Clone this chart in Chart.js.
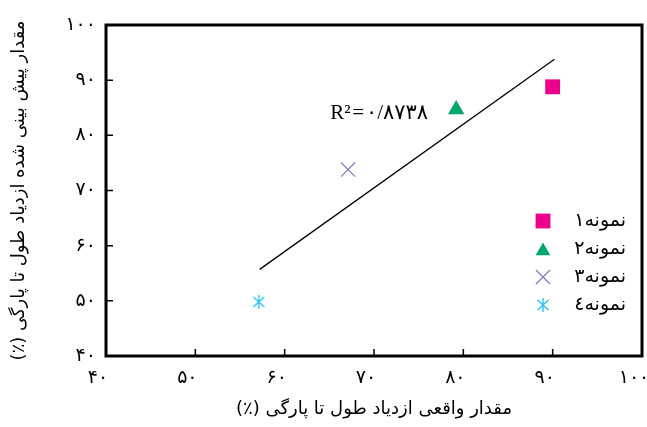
<!DOCTYPE html>
<html lang="fa">
<head>
    <meta charset="UTF-8">
    <title>مقدار پیش بینی شده و واقعی ازدیاد طول تا پارگی</title>
    <script src="https://cdn.jsdelivr.net/npm/chart.js"></script>
    <style>
        html, body {
            margin: 0;
            padding: 0;
            background: #fff;
        }
        #wrap {
            width: 647px;
            height: 427px;
        }
    </style>
</head>
<body>
    <div id="wrap">
        <canvas id="chart" dir="rtl" width="647" height="427"></canvas>
    </div>
    <script>
        // values
        const sampleNames = ['نمونه۱', 'نمونه۲', 'نمونه۳', 'نمونه٤'];
        const actualValues = [90.0, 79.2, 67.1, 57.1];
        const predictedValues = [88.8, 84.7, 73.8, 49.8];
        const fitLineX = [57.2, 90.2];
        const fitLineY = [55.7, 93.8];
        const rSquaredText = 'R²\u200a=\u200a۰/۸۷۳۸';
        const rSquaredAt = [65.1, 84.0];
        const innerTicks = [50, 60, 70, 80, 90];
        const xTitle = 'مقدار واقعی ازدیاد طول تا پارگی (٪)';
        const yTitle = 'مقدار پیش بینی شده ازدیاد طول تا پارگی (٪)';

        const sampleColors = ['#ec008c', '#00a76a', '#8b7bbd', '#29c3f0'];
        const faDigits = '۰۱۲۳۴۵۶۷۸۹';
        const toFa = n => String(n).replace(/\d/g, d => faDigits[d]);
        const arabicFont = 'DejaVu Sans';

        // six armed asterisk for sample 4
        function makeStar(color) {
            const c = document.createElement('canvas');
            c.width = 18;
            c.height = 18;
            const g = c.getContext('2d');
            g.strokeStyle = color;
            g.lineWidth = 1.4;
            g.beginPath();
            g.moveTo(9, 2); g.lineTo(9, 16);
            g.moveTo(3.5, 4); g.lineTo(14.5, 14);
            g.moveTo(14.5, 4); g.lineTo(3.5, 14);
            g.stroke();
            return c;
        }

        const markerStyles = [
            { pointStyle: 'rect', radius: 10.5, borderWidth: 0 },
            { pointStyle: 'triangle', radius: 9.5, borderWidth: 0 },
            { pointStyle: 'crossRot', radius: 10, borderWidth: 1.3 },
            { pointStyle: makeStar(sampleColors[3]), radius: 9, borderWidth: 1.4 }
        ];

        const sampleSets = sampleNames.map((name, i) => ({
            label: name,
            data: [{ x: actualValues[i], y: predictedValues[i] }],
            pointStyle: markerStyles[i].pointStyle,
            pointRadius: markerStyles[i].radius,
            pointBorderWidth: markerStyles[i].borderWidth,
            backgroundColor: sampleColors[i],
            borderColor: sampleColors[i],
            isSample: true,
            order: 1
        }));

        const fitSet = {
            type: 'line',
            label: 'fit',
            data: fitLineX.map((x, i) => ({ x: x, y: fitLineY[i] })),
            borderColor: '#000',
            borderWidth: 1.3,
            pointRadius: 0,
            fill: false,
            order: 2
        };

        const framePlugin = {
            id: 'frame',
            afterDraw(chart) {
                const { ctx, chartArea: a, scales } = chart;
                ctx.save();
                ctx.strokeStyle = '#000';
                ctx.lineWidth = 3;
                ctx.strokeRect(a.left, a.top, a.right - a.left, a.bottom - a.top);

                // short inward ticks on the bottom and left sides
                ctx.lineWidth = 1.5;
                ctx.beginPath();
                innerTicks.forEach(v => {
                    const px = scales.x.getPixelForValue(v);
                    ctx.moveTo(px, a.bottom);
                    ctx.lineTo(px, a.bottom - 7);
                    const py = scales.y.getPixelForValue(v);
                    ctx.moveTo(a.left, py);
                    ctx.lineTo(a.left + 7, py);
                });
                ctx.stroke();

                // R squared note
                ctx.direction = 'ltr';
                ctx.fillStyle = '#000';
                ctx.textAlign = 'left';
                ctx.textBaseline = 'middle';
                ctx.font = "21px 'Liberation Serif', 'DejaVu Sans'";
                ctx.fillText(rSquaredText,
                    scales.x.getPixelForValue(rSquaredAt[0]),
                    scales.y.getPixelForValue(rSquaredAt[1]));

                // legend inside the plot, marker left of the text
                const lx = a.right - 99;
                const ly = a.top + 196;
                chart.data.datasets.filter(d => d.isSample).forEach((d, i) => {
                    const y = ly + i * 28;
                    ctx.fillStyle = d.backgroundColor;
                    ctx.strokeStyle = d.borderColor;
                    ctx.lineWidth = d.pointBorderWidth;
                    Chart.helpers.drawPoint(ctx, {
                        pointStyle: d.pointStyle,
                        radius: i === 1 ? 8.5 : d.pointRadius,
                        borderWidth: d.pointBorderWidth,
                        rotation: 0
                    }, lx, i === 1 ? y + 2 : y);
                    ctx.direction = 'rtl';
                    ctx.textAlign = 'right';
                    ctx.fillStyle = '#000';
                    ctx.font = '19px ' + arabicFont;
                    ctx.fillText(d.label, a.right - 16, y);
                });
                ctx.restore();
            }
        };

        const tickFont = { family: arabicFont, size: 19 };
        const titleFont = { family: arabicFont, size: 18 };

        new Chart(document.getElementById('chart'), {
            type: 'scatter',
            data: { datasets: [...sampleSets, fitSet] },
            options: {
                responsive: false,
                animation: false,
                layout: { autoPadding: false, padding: { top: 25, right: 5, left: 0, bottom: 0 } },
                plugins: {
                    legend: { display: false },
                    tooltip: { enabled: false }
                },
                scales: {
                    x: {
                        type: 'linear',
                        min: 40,
                        max: 100,
                        grid: { display: false, drawTicks: false },
                        border: { display: false },
                        ticks: {
                            stepSize: 10,
                            maxRotation: 0,
                            autoSkip: false,
                            padding: 11,
                            labelOffset: -8,
                            color: '#000',
                            font: tickFont,
                            callback: v => toFa(v)
                        },
                        title: {
                            display: true,
                            text: xTitle,
                            color: '#000',
                            font: titleFont,
                            padding: { top: 0, bottom: 7 }
                        },
                        afterFit: s => {
                            s.height = 71;
                            s.paddingLeft = 0;
                            s.paddingRight = 0;
                        }
                    },
                    y: {
                        type: 'linear',
                        min: 40,
                        max: 100,
                        grid: { display: false, drawTicks: false },
                        border: { display: false },
                        ticks: {
                            stepSize: 10,
                            padding: 10,
                            color: '#000',
                            font: tickFont,
                            callback: v => toFa(v)
                        },
                        title: {
                            display: true,
                            text: yTitle,
                            color: '#000',
                            font: titleFont,
                            padding: { top: 9, bottom: 0 }
                        },
                        afterFit: s => {
                            s.width = 106;
                            s.paddingTop = 0;
                            s.paddingBottom = 0;
                        }
                    }
                }
            },
            plugins: [framePlugin]
        });
    </script>
</body>
</html>
